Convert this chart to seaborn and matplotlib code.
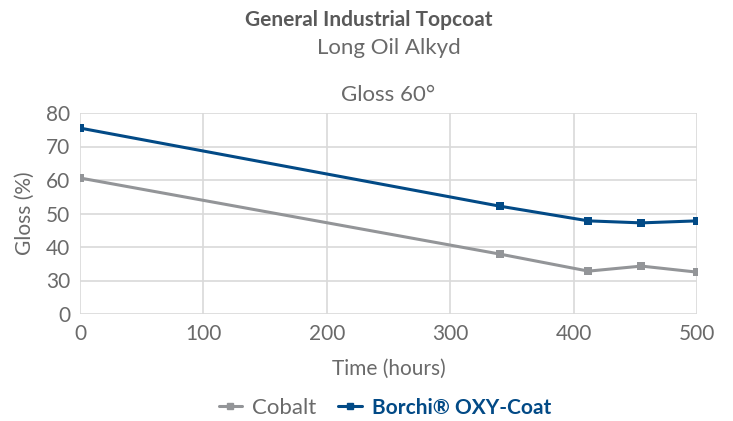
import numpy as np
import pandas as pd
import matplotlib
matplotlib.use("Agg")
import matplotlib.pyplot as plt
import seaborn as sns
from matplotlib.lines import Line2D

# data
hours = [0, 340, 412, 455, 500]
cobalt = [60.6, 37.9, 32.8, 34.3, 32.5]
borchi = [75.5, 52.2, 47.8, 47.2, 47.8]
series_names = ["Cobalt", "Borchi® OXY-Coat"]
y_ticks = [20, 30, 40, 50, 60, 70, 80]
y_tick_labels = ["0", "30", "40", "50", "60", "70", "80"]
x_ticks = [0, 100, 200, 300, 400, 500]

df = pd.DataFrame({
    "hours": hours * 2,
    "gloss": cobalt + borchi,
    "series": [series_names[0]] * len(hours) + [series_names[1]] * len(hours),
})

sns.set_theme(style="white")
plt.rcParams['font.family'] = ['Lato', 'DejaVu Sans']

gray = "#939598"
blue = "#024A86"
text_gray = "#6a6a6a"
title_gray = "#595959"
grid_c = "#D9D9D9"
palette = {series_names[0]: gray, series_names[1]: blue}

fig = plt.figure(figsize=(7.33, 4.21), dpi=100)
ax = fig.add_axes([80 / 733, 1 - 314 / 421, (697 - 80) / 733, (314 - 113) / 421])

sns.lineplot(data=df, x="hours", y="gloss", hue="series", palette=palette,
             marker="s", markersize=6, markeredgewidth=0, linewidth=2.2,
             legend=False, ax=ax)

ax.set_xlim(0, 500)
ax.set_ylim(20, 80)
ax.set_xticks(x_ticks)
ax.set_yticks(y_ticks)
ax.set_yticklabels(y_tick_labels)
ax.grid(True, color=grid_c, linewidth=1.2)
ax.set_axisbelow(True)
for s in ax.spines.values():
    s.set_visible(False)
ax.tick_params(axis="both", length=0, labelsize=15, colors=text_gray, pad=7)
ax.set_xlabel("Time (hours)", fontsize=15, color=text_gray, labelpad=11)
ax.set_ylabel("Gloss (%)", fontsize=15, color=text_gray, labelpad=8)

ax_cx = (80 + 697) / 2 / 733
fig.text(369 / 733, 1 - 20 / 421, "General Industrial Topcoat", ha="center", va="center",
         fontsize=15, fontweight="bold", color=title_gray)
fig.text(ax_cx, 1 - 48 / 421, "Long Oil Alkyd", ha="center", va="center",
         fontsize=16, color=text_gray)
fig.text(ax_cx, 1 - 95 / 421, "Gloss 60°", ha="center", va="center",
         fontsize=16, color=text_gray)

handles = [Line2D([0], [0], color=gray, marker="s", markersize=4, linewidth=2.2),
           Line2D([0], [0], color=blue, marker="s", markersize=4, linewidth=2.2)]
leg = fig.legend(handles, series_names, loc="center", bbox_to_anchor=(0.525, 1 - 408 / 421),
                 ncol=2, frameon=False, fontsize=16, handlelength=1.05, columnspacing=1.0,
                 handletextpad=0.45)
texts = leg.get_texts()
texts[0].set_color(text_gray)
texts[1].set_color(blue)
texts[1].set_fontweight("bold")
texts[1].set_fontsize(15)

fig.savefig("out.png", dpi=100)
